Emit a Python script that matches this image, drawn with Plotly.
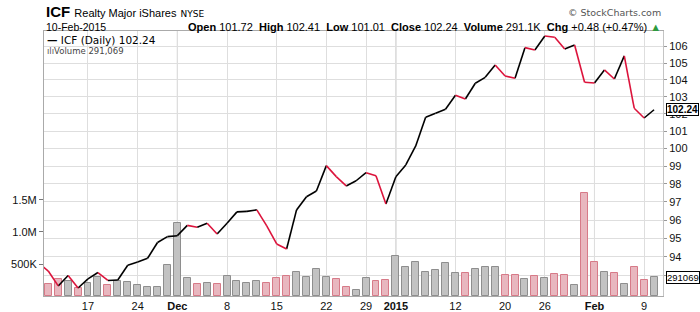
import math
import plotly.graph_objects as go

# ---------------- data ----------------
dates = [
    "2014-11-11", "2014-11-12", "2014-11-13", "2014-11-14", "2014-11-17", "2014-11-18", "2014-11-19",
    "2014-11-20", "2014-11-21", "2014-11-24", "2014-11-25", "2014-11-26", "2014-11-28",
    "2014-12-01", "2014-12-02", "2014-12-03", "2014-12-04", "2014-12-05", "2014-12-08", "2014-12-09",
    "2014-12-10", "2014-12-11", "2014-12-12", "2014-12-15", "2014-12-16", "2014-12-17", "2014-12-18",
    "2014-12-19", "2014-12-22", "2014-12-23", "2014-12-24", "2014-12-26", "2014-12-29", "2014-12-30",
    "2014-12-31", "2015-01-02", "2015-01-05", "2015-01-06", "2015-01-07", "2015-01-08", "2015-01-09",
    "2015-01-12", "2015-01-13", "2015-01-14", "2015-01-15", "2015-01-16", "2015-01-20", "2015-01-21",
    "2015-01-22", "2015-01-23", "2015-01-26", "2015-01-27", "2015-01-28", "2015-01-29", "2015-01-30",
    "2015-02-02", "2015-02-03", "2015-02-04", "2015-02-05", "2015-02-06", "2015-02-09", "2015-02-10",
]
prev_close = 93.68  # close of the session before the first visible one
closes = [
    93.25, 92.46, 93.01, 92.35, 92.83, 93.17, 92.75, 92.77, 93.56, 93.73, 93.93, 94.78, 95.10,
    95.15, 95.71, 95.61, 95.83, 95.24, 95.83, 96.45, 96.48, 96.56, 95.68, 94.70, 94.43, 96.56,
    97.29, 97.61, 99.03, 98.41, 97.89, 98.18, 98.63, 98.46, 96.89, 98.41, 99.07, 100.15, 101.80,
    102.03, 102.27, 103.09, 102.87, 103.80, 104.15, 104.89, 104.23, 104.09, 105.93, 105.79,
    106.64, 106.56, 105.85, 106.09, 103.86, 103.81, 104.59, 104.05, 105.43, 102.33, 101.76, 102.24,
]
volumes = [
    187000, 266000, 234000, 125000, 203000, 297000, 172000, 240000, 219000, 172000, 141000, 141000,
    484000, 1140000, 281000, 187000, 203000, 187000, 312000, 234000, 203000, 234000, 203000, 281000,
    312000, 375000, 297000, 422000, 297000, 266000, 141000, 94000, 281000, 234000, 250000, 625000,
    453000, 531000, 375000, 406000, 516000, 359000, 359000, 422000, 453000, 453000, 328000, 328000,
    266000, 312000, 281000, 344000, 328000, 172000, 1610000, 531000, 375000, 359000, 187000,
    453000, 250000, 291069,
]
tick_dates = ["2014-11-17", "2014-11-24", "2014-12-01", "2014-12-08", "2014-12-15", "2014-12-22",
              "2014-12-29", "2015-01-02", "2015-01-12", "2015-01-20", "2015-01-26", "2015-02-02",
              "2015-02-09"]
tick_labels = ["17", "24", "<b>Dec</b>", "8", "15", "22", "29", "<b>2015</b>", "12", "20", "26",
               "<b>Feb</b>", "9"]
month_dates = ["2014-12-01", "2015-01-02", "2015-02-02"]
price_ticks = [93, 94, 95, 96, 97, 98, 99, 100, 101, 102, 103, 104, 105, 106]
price_tick_text = ["", "94", "95", "96", "97", "98", "99", "100", "101", "102", "103", "104", "105", "106"]
vol_ticks = [500000, 1000000, 1500000]
vol_tick_text = ["500K", "1.0M", "1.5M"]

# ---------------- styles ----------------
RED = "#dc143c"
BLACK = "#000000"
PINK_FILL, PINK_LINE = "#e8b7bf", "#d77a88"
GRAY_FILL, GRAY_LINE = "#c2c2c2", "#8e8e8e"
GRID = "#dedede"
MONTH_GRID = "#b8b8b8"
FONT = "Liberation Sans, Arial, sans-serif"
VFONT = "DejaVu Sans, Verdana, sans-serif"

n = len(dates)
idx = list(range(n))
all_close = [prev_close] + closes
all_idx = [-1] + idx

up_x, up_y, dn_x, dn_y = [], [], [], []
for k in range(1, len(all_close)):
    seg_x = [all_idx[k - 1], all_idx[k], None]
    seg_y = [all_close[k - 1], all_close[k], None]
    if all_close[k] >= all_close[k - 1]:
        up_x += seg_x
        up_y += seg_y
    else:
        dn_x += seg_x
        dn_y += seg_y

bar_fill = [PINK_FILL if all_close[k + 1] < all_close[k] else GRAY_FILL for k in range(n)]
bar_line = [PINK_LINE if all_close[k + 1] < all_close[k] else GRAY_LINE for k in range(n)]

fig = go.Figure()
fig.add_trace(go.Bar(x=idx, y=volumes, width=0.7, marker=dict(color=bar_fill, line=dict(color=bar_line, width=1)),
                     yaxis="y", showlegend=False, hoverinfo="skip"))
fig.add_trace(go.Scatter(x=up_x, y=up_y, mode="lines", line=dict(color=BLACK, width=1.6),
                         yaxis="y2", showlegend=False, hoverinfo="skip"))
fig.add_trace(go.Scatter(x=dn_x, y=dn_y, mode="lines", line=dict(color=RED, width=1.6),
                         yaxis="y2", showlegend=False, hoverinfo="skip"))

tick_pos = [dates.index(d) for d in tick_dates]
shapes = []
for d in month_dates:
    p = dates.index(d)
    shapes.append(dict(type="line", xref="x", yref="paper", x0=p, x1=p, y0=0, y1=1,
                       line=dict(color=MONTH_GRID, width=1), layer="below"))

p_lo, p_hi = 91.93, 106.94

fig.update_layout(
    width=700, height=312,
    margin=dict(l=44, r=37, t=31, b=16, autoexpand=False),
    paper_bgcolor="white", plot_bgcolor="white",
    bargap=0,
    shapes=shapes,
    xaxis=dict(range=[-0.43, 61.9], tickvals=tick_pos, ticktext=tick_labels, showgrid=True,
               gridcolor=GRID, gridwidth=1, zeroline=False, showline=True, linecolor="#aaaaaa",
               mirror=True, ticks="", automargin=False,
               tickfont=dict(family=FONT, size=11, color="#111")),
    yaxis=dict(range=[0, 4.14e6], tickvals=vol_ticks, ticktext=vol_tick_text, showgrid=False,
               zeroline=False, showline=True, linecolor="#aaaaaa", ticks="outside", ticklen=4,
               tickcolor="#777", automargin=False,
               tickfont=dict(family=FONT, size=11, color="#111")),
    yaxis2=dict(type="log", overlaying="y", side="right", range=[math.log10(p_lo), math.log10(p_hi)],
                tickvals=price_ticks, ticktext=price_tick_text, showgrid=True, gridcolor=GRID,
                zeroline=False, showline=True, linecolor="#c4c4c4", ticks="outside", ticklen=3,
                tickcolor="#999", automargin=False,
                tickfont=dict(family=FONT, size=11, color="#111")),
)

ann = []
ann.append(dict(xref="paper", yref="paper", x=0, y=1, yshift=30, xanchor="left", yanchor="top",
                showarrow=False, align="left",
                text="<b>ICF</b> <span style='font-size:11px'>Realty Major iShares</span> "
                     "<span style='font-size:9px;font-family:DejaVu Sans'>NYSE</span>",
                font=dict(family=FONT, size=15, color="#000")))
ann.append(dict(xref="paper", yref="paper", x=0, y=1, yshift=12, xanchor="left", yanchor="top",
                showarrow=False, text="10-Feb-2015", font=dict(family=FONT, size=10.5, color="#000")))
last, prev = closes[-1], closes[-2]
chg = last - prev
hdr = ("<b>Open</b> 101.72  <b>High</b> 102.41  <b>Low</b> 101.01  <b>Close</b> %.2f  "
       "<b>Volume</b> %.1fK  <b>Chg</b> %+.2f (%+.2f%%) <span style='color:#2e9a3e'>▲</span>"
       % (last, volumes[-1] / 1000, chg, chg / prev * 100))
ann.append(dict(xref="paper", yref="paper", x=1, y=1, yshift=12, xanchor="right", yanchor="top",
                showarrow=False, text=hdr, font=dict(family=FONT, size=11, color="#000")))
ann.append(dict(xref="paper", yref="paper", x=1, y=1, yshift=26, xanchor="right", yanchor="top",
                showarrow=False, text="© StockCharts.com", font=dict(family=VFONT, size=9.5, color="#555")))
ann.append(dict(xref="paper", yref="paper", x=0, y=1, xshift=1, yshift=-1, xanchor="left", yanchor="top",
                showarrow=False, align="left",
                text="<b>—</b> ICF (Daily) %.2f" % last,
                font=dict(family=VFONT, size=10.5, color="#000")))
ann.append(dict(xref="paper", yref="paper", x=0, y=1, xshift=1, yshift=-13, xanchor="left", yanchor="top",
                showarrow=False, align="left",
                text="<span style='color:#555'>ılı</span>Volume {:,}".format(volumes[-1]),
                font=dict(family=VFONT, size=8.5, color="#444")))
ann.append(dict(xref="paper", yref="y2", x=1, y=math.log10(last), xanchor="left", yanchor="middle",
                xshift=3, showarrow=False, text="<b>%.2f</b>" % last,
                font=dict(family=FONT, size=10, color="#000"), bgcolor="white",
                bordercolor="#000", borderwidth=1, borderpad=0))
ann.append(dict(xref="paper", yref="y", x=1, y=volumes[-1], xanchor="left", yanchor="middle",
                xshift=3, showarrow=False, text=str(volumes[-1]),
                font=dict(family=FONT, size=9.5, color="#000"), bgcolor="white",
                bordercolor="#000", borderwidth=1, borderpad=0))
fig.update_layout(annotations=ann)

fig.write_html("out.html")
